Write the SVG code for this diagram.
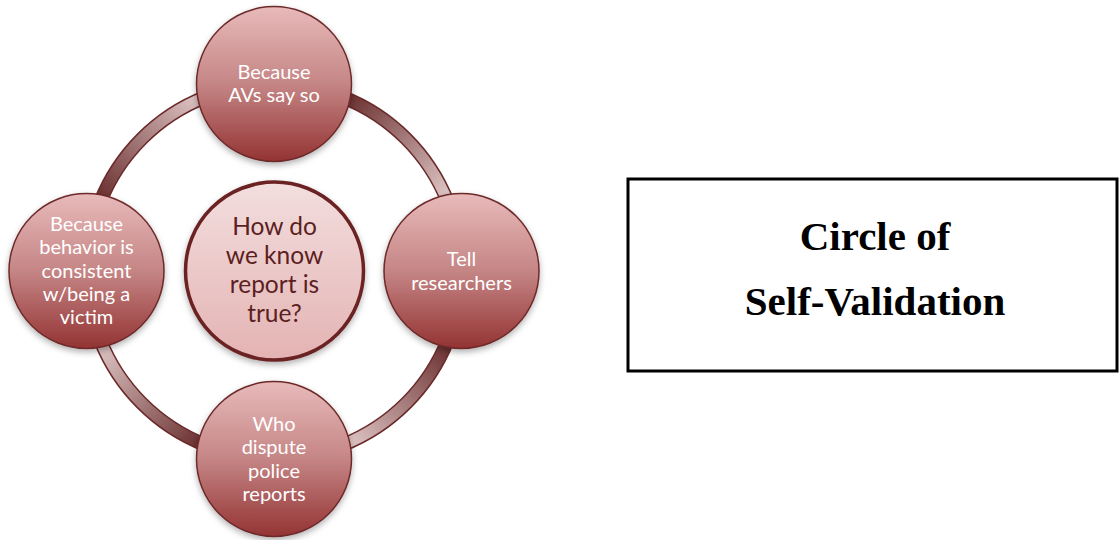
<svg xmlns="http://www.w3.org/2000/svg" width="1120" height="540" viewBox="0 0 1120 540">
<style>
.ring-outline{fill:none;stroke:#6b2a2a;stroke-width:14}
.ring-fill{fill:none;stroke-width:11}
.node{stroke:#6e2a2a;stroke-width:1.5;fill:url(#nodeGrad);filter:url(#shadow)}
.hub{stroke:#6b2222;stroke-width:3.5;fill:url(#hubGrad);filter:url(#shadow)}
.nt{font-family:Lato,"Open Sans",sans-serif;font-size:20px;fill:#ffffff;text-anchor:middle}
.ht{font-family:Lato,"Open Sans",sans-serif;font-size:24.5px;fill:#5c1f1f;text-anchor:middle}
.title{font-family:"Liberation Serif","Times New Roman",serif;font-weight:bold;font-size:41px;fill:#000;text-anchor:middle}
</style>
<defs>
<linearGradient id="nodeGrad" x1="0" y1="0" x2="0" y2="1">
<stop offset="0" stop-color="#e8baba"/>
<stop offset="0.5" stop-color="#c58585"/>
<stop offset="1" stop-color="#943333"/>
</linearGradient>
<linearGradient id="hubGrad" x1="0" y1="0" x2="0" y2="1">
<stop offset="0" stop-color="#f3dede"/>
<stop offset="1" stop-color="#e4b3b3"/>
</linearGradient>
<linearGradient id="g1" gradientUnits="userSpaceOnUse" x1="350" y1="100" x2="445" y2="195">
<stop offset="0" stop-color="#6e3434"/><stop offset="1" stop-color="#dcc2c2"/>
</linearGradient>
<linearGradient id="g2" gradientUnits="userSpaceOnUse" x1="445" y1="347" x2="350" y2="442">
<stop offset="0" stop-color="#6e3434"/><stop offset="1" stop-color="#dcc2c2"/>
</linearGradient>
<linearGradient id="g3" gradientUnits="userSpaceOnUse" x1="198" y1="442" x2="103" y2="347">
<stop offset="0" stop-color="#6e3434"/><stop offset="1" stop-color="#dcc2c2"/>
</linearGradient>
<linearGradient id="g4" gradientUnits="userSpaceOnUse" x1="103" y1="195" x2="198" y2="100">
<stop offset="0" stop-color="#6e3434"/><stop offset="1" stop-color="#dcc2c2"/>
</linearGradient>
<filter id="shadow" x="-20%" y="-20%" width="140%" height="150%">
<feDropShadow dx="0" dy="3" stdDeviation="3" flood-color="#000" flood-opacity="0.3"/>
</filter>
</defs>
<rect width="1120" height="540" fill="#ffffff"/>
<g id="connectors">
<path class="ring-outline" d="M274 84 A187 187 0 0 1 461 271"/>
<path class="ring-fill" stroke="url(#g1)" d="M274 84 A187 187 0 0 1 461 271"/>
<path class="ring-outline" d="M461 271 A187 187 0 0 1 274 458"/>
<path class="ring-fill" stroke="url(#g2)" d="M461 271 A187 187 0 0 1 274 458"/>
<path class="ring-outline" d="M274 458 A187 187 0 0 1 87 271"/>
<path class="ring-fill" stroke="url(#g3)" d="M274 458 A187 187 0 0 1 87 271"/>
<path class="ring-outline" d="M87 271 A187 187 0 0 1 274 84"/>
<path class="ring-fill" stroke="url(#g4)" d="M87 271 A187 187 0 0 1 274 84"/>
</g>
<g id="node-top">
<circle class="node" cx="274" cy="84" r="77.5"/>
<text class="nt" x="274" y="78.5">Because</text>
<text class="nt" x="274" y="102">AVs say so</text>
</g>
<g id="node-right">
<circle class="node" cx="461.5" cy="271" r="77.5"/>
<text class="nt" x="461.5" y="266">Tell</text>
<text class="nt" x="461.5" y="289.5">researchers</text>
</g>
<g id="node-bottom">
<circle class="node" cx="274" cy="459" r="77.5"/>
<text class="nt" x="274" y="431">Who</text>
<text class="nt" x="274" y="454.3">dispute</text>
<text class="nt" x="274" y="477.6">police</text>
<text class="nt" x="274" y="501">reports</text>
</g>
<g id="node-left">
<circle class="node" cx="86.5" cy="271" r="77.5"/>
<text class="nt" x="86.5" y="231">Because</text>
<text class="nt" x="86.5" y="254.3">behavior is</text>
<text class="nt" x="86.5" y="277.6">consistent</text>
<text class="nt" x="86.5" y="301">w/being a</text>
<text class="nt" x="86.5" y="324.3">victim</text>
</g>
<g id="node-center">
<circle class="hub" cx="274.5" cy="271" r="89"/>
<text class="ht" x="274.5" y="234.5">How do</text>
<text class="ht" x="274.5" y="263.7">we know</text>
<text class="ht" x="274.5" y="292.9">report is</text>
<text class="ht" x="274.5" y="322.1">true?</text>
</g>
<g id="title-box">
<rect x="628" y="179" width="489" height="192" fill="#ffffff" stroke="#000" stroke-width="3"/>
<text class="title" x="875" y="250">Circle of</text>
<text class="title" x="875" y="315">Self-Validation</text>
</g>
</svg>
